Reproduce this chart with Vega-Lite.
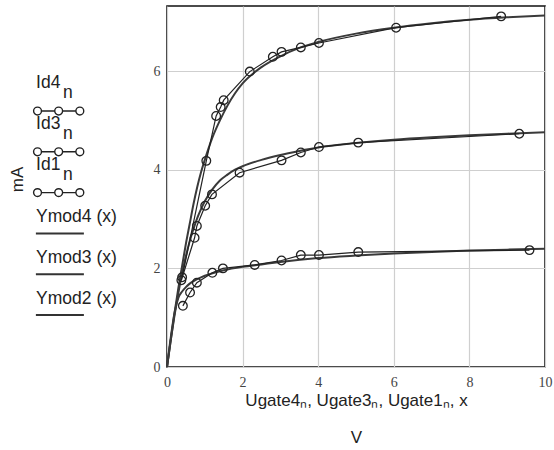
{
  "$schema": "https://vega.github.io/schema/vega-lite/v6.json",
  "padding": {"left": 8, "top": 5, "right": 4, "bottom": 0},
  "background": "white",
  "config": {
    "view": {"stroke": null},
    "concat": {"spacing": 0},
    "font": "Liberation Sans"
  },
  "datasets": {
    "meas": [
      {"series": "Id4", "v": 0.40, "i": 1.82},
      {"series": "Id4", "v": 1.04, "i": 4.18},
      {"series": "Id4", "v": 1.30, "i": 5.09},
      {"series": "Id4", "v": 1.42, "i": 5.27},
      {"series": "Id4", "v": 1.50, "i": 5.41},
      {"series": "Id4", "v": 2.19, "i": 5.99},
      {"series": "Id4", "v": 2.80, "i": 6.29},
      {"series": "Id4", "v": 3.03, "i": 6.39},
      {"series": "Id4", "v": 3.54, "i": 6.48},
      {"series": "Id4", "v": 4.02, "i": 6.57},
      {"series": "Id4", "v": 6.06, "i": 6.88},
      {"series": "Id4", "v": 8.84, "i": 7.11},
      {"series": "Id3", "v": 0.38, "i": 1.76},
      {"series": "Id3", "v": 0.73, "i": 2.62},
      {"series": "Id3", "v": 0.79, "i": 2.86},
      {"series": "Id3", "v": 1.01, "i": 3.27},
      {"series": "Id3", "v": 1.19, "i": 3.50},
      {"series": "Id3", "v": 1.92, "i": 3.94},
      {"series": "Id3", "v": 3.03, "i": 4.19},
      {"series": "Id3", "v": 3.54, "i": 4.35},
      {"series": "Id3", "v": 4.02, "i": 4.46},
      {"series": "Id3", "v": 5.06, "i": 4.55},
      {"series": "Id3", "v": 9.32, "i": 4.73},
      {"series": "Id1", "v": 0.42, "i": 1.24},
      {"series": "Id1", "v": 0.61, "i": 1.51},
      {"series": "Id1", "v": 0.79, "i": 1.71},
      {"series": "Id1", "v": 1.20, "i": 1.91},
      {"series": "Id1", "v": 1.48, "i": 2.00},
      {"series": "Id1", "v": 2.32, "i": 2.07},
      {"series": "Id1", "v": 3.03, "i": 2.16},
      {"series": "Id1", "v": 3.54, "i": 2.27},
      {"series": "Id1", "v": 4.02, "i": 2.27},
      {"series": "Id1", "v": 5.06, "i": 2.33},
      {"series": "Id1", "v": 9.59, "i": 2.37}
    ],
    "model": [
      {"series": "Ymod4", "v": 0, "i": 0},
      {"series": "Ymod4", "v": 0.1, "i": 0.55},
      {"series": "Ymod4", "v": 0.2, "i": 1.1},
      {"series": "Ymod4", "v": 0.3, "i": 1.6},
      {"series": "Ymod4", "v": 0.4, "i": 2.05},
      {"series": "Ymod4", "v": 0.5, "i": 2.5},
      {"series": "Ymod4", "v": 0.6, "i": 2.9},
      {"series": "Ymod4", "v": 0.7, "i": 3.3},
      {"series": "Ymod4", "v": 0.8, "i": 3.65},
      {"series": "Ymod4", "v": 0.9, "i": 3.95},
      {"series": "Ymod4", "v": 1.0, "i": 4.2},
      {"series": "Ymod4", "v": 1.2, "i": 4.65},
      {"series": "Ymod4", "v": 1.4, "i": 5.0},
      {"series": "Ymod4", "v": 1.6, "i": 5.3},
      {"series": "Ymod4", "v": 1.8, "i": 5.55},
      {"series": "Ymod4", "v": 2.0, "i": 5.75},
      {"series": "Ymod4", "v": 2.5, "i": 6.08},
      {"series": "Ymod4", "v": 3.0, "i": 6.3},
      {"series": "Ymod4", "v": 3.5, "i": 6.47},
      {"series": "Ymod4", "v": 4.0, "i": 6.59},
      {"series": "Ymod4", "v": 5.0, "i": 6.76},
      {"series": "Ymod4", "v": 6.0, "i": 6.88},
      {"series": "Ymod4", "v": 7.0, "i": 6.97},
      {"series": "Ymod4", "v": 8.0, "i": 7.04},
      {"series": "Ymod4", "v": 9.0, "i": 7.09},
      {"series": "Ymod4", "v": 10.0, "i": 7.13},
      {"series": "Ymod3", "v": 0, "i": 0},
      {"series": "Ymod3", "v": 0.1, "i": 0.55},
      {"series": "Ymod3", "v": 0.2, "i": 1.05},
      {"series": "Ymod3", "v": 0.3, "i": 1.5},
      {"series": "Ymod3", "v": 0.4, "i": 1.9},
      {"series": "Ymod3", "v": 0.5, "i": 2.25},
      {"series": "Ymod3", "v": 0.6, "i": 2.55},
      {"series": "Ymod3", "v": 0.7, "i": 2.8},
      {"series": "Ymod3", "v": 0.8, "i": 3.02},
      {"series": "Ymod3", "v": 0.9, "i": 3.2},
      {"series": "Ymod3", "v": 1.0, "i": 3.36},
      {"series": "Ymod3", "v": 1.2, "i": 3.6},
      {"series": "Ymod3", "v": 1.4, "i": 3.78},
      {"series": "Ymod3", "v": 1.6, "i": 3.9},
      {"series": "Ymod3", "v": 1.8, "i": 4.0},
      {"series": "Ymod3", "v": 2.0, "i": 4.07},
      {"series": "Ymod3", "v": 2.5, "i": 4.2},
      {"series": "Ymod3", "v": 3.0, "i": 4.3},
      {"series": "Ymod3", "v": 3.5, "i": 4.38},
      {"series": "Ymod3", "v": 4.0, "i": 4.45},
      {"series": "Ymod3", "v": 5.0, "i": 4.54},
      {"series": "Ymod3", "v": 6.0, "i": 4.61},
      {"series": "Ymod3", "v": 7.0, "i": 4.66},
      {"series": "Ymod3", "v": 8.0, "i": 4.7},
      {"series": "Ymod3", "v": 9.0, "i": 4.73},
      {"series": "Ymod3", "v": 10.0, "i": 4.76},
      {"series": "Ymod2", "v": 0, "i": 0},
      {"series": "Ymod2", "v": 0.1, "i": 0.6},
      {"series": "Ymod2", "v": 0.2, "i": 1.1},
      {"series": "Ymod2", "v": 0.3, "i": 1.4},
      {"series": "Ymod2", "v": 0.4, "i": 1.53},
      {"series": "Ymod2", "v": 0.5, "i": 1.62},
      {"series": "Ymod2", "v": 0.6, "i": 1.69},
      {"series": "Ymod2", "v": 0.8, "i": 1.78},
      {"series": "Ymod2", "v": 1.0, "i": 1.85},
      {"series": "Ymod2", "v": 1.25, "i": 1.91},
      {"series": "Ymod2", "v": 1.5, "i": 1.96},
      {"series": "Ymod2", "v": 2.0, "i": 2.03},
      {"series": "Ymod2", "v": 2.5, "i": 2.08},
      {"series": "Ymod2", "v": 3.0, "i": 2.13},
      {"series": "Ymod2", "v": 4.0, "i": 2.21},
      {"series": "Ymod2", "v": 5.0, "i": 2.26},
      {"series": "Ymod2", "v": 6.0, "i": 2.3},
      {"series": "Ymod2", "v": 7.0, "i": 2.33},
      {"series": "Ymod2", "v": 8.0, "i": 2.36},
      {"series": "Ymod2", "v": 9.0, "i": 2.38},
      {"series": "Ymod2", "v": 10.0, "i": 2.4}
    ],
    "legend": [
      {"item": "Id4", "label": "Id4", "sub": "n", "kind": "data"},
      {"item": "Id3", "label": "Id3", "sub": "n", "kind": "data"},
      {"item": "Id1", "label": "Id1", "sub": "n", "kind": "data"},
      {"item": "Ymod4", "label": "Ymod4 (x)", "sub": "", "kind": "model"},
      {"item": "Ymod3", "label": "Ymod3 (x)", "sub": "", "kind": "model"},
      {"item": "Ymod2", "label": "Ymod2 (x)", "sub": "", "kind": "model"}
    ]
  },
  "hconcat": [
    {
      "width": 122,
      "height": 361,
      "data": {"name": "legend"},
      "encoding": {
        "y": {
          "field": "item",
          "type": "ordinal",
          "sort": ["Id4", "Id3", "Id1", "Ymod4", "Ymod3", "Ymod2"],
          "scale": {"type": "point", "range": [105, 309], "padding": 0},
          "axis": {
            "labels": false, "ticks": false, "domain": false, "grid": false,
            "title": "mA", "titleFont": "Liberation Sans", "titleFontSize": 17,
            "titleFontWeight": "normal", "titleColor": "#222", "titlePadding": 4,
            "titleY": 173
          }
        }
      },
      "layer": [
        {
          "transform": [{"filter": "datum.kind == 'data'"}],
          "mark": {
            "type": "point",
            "shape": "M-0.733,0A0.167,0.167 0 1,0 -1.067,0A0.167,0.167 0 1,0 -0.733,0M0.167,0A0.167,0.167 0 1,0 -0.167,0A0.167,0.167 0 1,0 0.167,0M1.067,0A0.167,0.167 0 1,0 0.733,0A0.167,0.167 0 1,0 1.067,0M-0.733,0L-0.167,0M0.167,0L0.733,0",
            "size": 2209, "filled": false, "stroke": "#222", "strokeWidth": 1.4, "opacity": 1
          },
          "encoding": {
            "x": {"datum": 0.235, "type": "quantitative", "scale": {"domain": [0, 1]}, "axis": null}
          }
        },
        {
          "transform": [{"filter": "datum.kind == 'model'"}],
          "mark": {
            "type": "point", "shape": "M-1,0L1,0", "size": 2304,
            "filled": false, "stroke": "#333", "strokeWidth": 2, "opacity": 1
          },
          "encoding": {
            "x": {"datum": 0.245, "type": "quantitative", "scale": {"domain": [0, 1]}, "axis": null}
          }
        },
        {
          "transform": [{"filter": "datum.kind == 'data'"}],
          "mark": {"type": "text", "align": "left", "baseline": "middle", "dy": -28, "fontSize": 17.5, "font": "Liberation Sans", "color": "#222"},
          "encoding": {
            "x": {"datum": 0.05, "type": "quantitative", "scale": {"domain": [0, 1]}, "axis": null},
            "text": {"field": "label"}
          }
        },
        {
          "transform": [{"filter": "datum.kind == 'data'"}],
          "mark": {"type": "text", "align": "left", "baseline": "middle", "dy": -18, "dx": 27, "fontSize": 17.5, "font": "Liberation Sans", "color": "#222"},
          "encoding": {
            "x": {"datum": 0.05, "type": "quantitative", "scale": {"domain": [0, 1]}, "axis": null},
            "text": {"field": "sub"}
          }
        },
        {
          "transform": [{"filter": "datum.kind == 'model'"}],
          "mark": {"type": "text", "align": "left", "baseline": "middle", "dy": -16, "fontSize": 17.5, "font": "Liberation Sans", "color": "#222"},
          "encoding": {
            "x": {"datum": 0.05, "type": "quantitative", "scale": {"domain": [0, 1]}, "axis": null},
            "text": {"field": "label"}
          }
        }
      ]
    },
    {
      "width": 378,
      "height": 361,
      "view": {"stroke": "#111", "strokeWidth": 1.6},
      "encoding": {
        "x": {
          "field": "v", "type": "quantitative",
          "scale": {"domain": [0, 10], "nice": false},
          "axis": {
            "values": [0, 2, 4, 6, 8, 10], "ticks": false, "domain": false,
            "grid": true, "gridColor": "#cfcfcf", "gridWidth": 1.2,
            "labelFont": "Liberation Serif", "labelFontSize": 14, "labelColor": "#444",
            "labelPadding": 8, "labelFlush": false,
            "title": ["Ugate4ₙ, Ugate3ₙ, Ugate1ₙ, x", "V"],
            "titleFont": "Liberation Sans", "titleFontSize": 17, "titleFontWeight": "normal",
            "titleColor": "#222", "titleLineHeight": 37, "titlePadding": 3
          }
        },
        "y": {
          "field": "i", "type": "quantitative",
          "scale": {"domain": [0, 7.32], "nice": false},
          "axis": {
            "values": [0, 2, 4, 6], "ticks": false, "domain": false,
            "grid": true, "gridColor": "#cfcfcf", "gridWidth": 1.2,
            "labelFont": "Liberation Serif", "labelFontSize": 14, "labelColor": "#444",
            "labelPadding": 7, "title": null
          }
        }
      },
      "layer": [
        {
          "data": {"name": "model"},
          "mark": {"type": "line", "interpolate": "monotone", "stroke": "#3a3a3a", "strokeWidth": 2},
          "encoding": {"detail": {"field": "series"}}
        },
        {
          "data": {"name": "meas"},
          "mark": {"type": "line", "stroke": "#222", "strokeWidth": 1.2},
          "encoding": {"detail": {"field": "series"}}
        },
        {
          "data": {"name": "meas"},
          "mark": {"type": "point", "shape": "circle", "filled": false, "size": 75, "stroke": "#222", "strokeWidth": 1.3, "opacity": 1},
          "encoding": {"detail": {"field": "series"}}
        }
      ]
    }
  ]
}
